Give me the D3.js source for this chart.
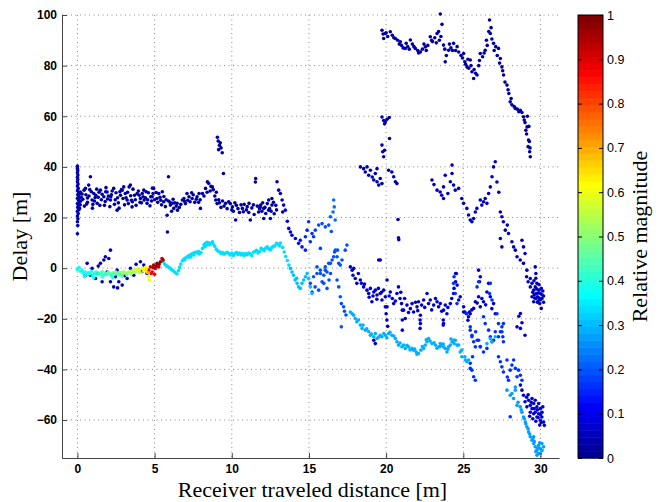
<!DOCTYPE html>
<html>
<head>
<meta charset="utf-8">
<script src="https://cdn.jsdelivr.net/npm/d3@7"></script>
<style>
  body { margin: 0; background: #fff; }
  .axis text { font-family: "Liberation Sans", Arial, sans-serif; font-weight: bold; font-size: 12px; fill: #000; }
  .axis path, .axis line { stroke: #444; }
  .cbaxis text { font-family: "Liberation Sans", Arial, sans-serif; font-size: 12.5px; fill: #000; }
  .cbaxis path { stroke: none; }
  .cbaxis line { stroke: #000; }
  .grid line { stroke: #888; stroke-dasharray: 1,3.5; }
  .label { font-family: "Liberation Serif", "Times New Roman", serif; font-size: 22px; fill: #000; }
</style>
</head>
<body>
<div id="chart"></div>
<script>
// ===== Data =====

let xTicks = [0, 5, 10, 15, 20, 25, 30];
let yTicks = [-60, -40, -20, 0, 20, 40, 60, 80, 100];
let cbTicks = [0, 0.1, 0.2, 0.3, 0.4, 0.5, 0.6, 0.7, 0.8, 0.9, 1];

// [distance, delay] pairs, one magnitude per group
let streak0 = [[0.0,40.3],[0.0,39.4],[0.02,38.6],[0.0,37.7],[0.03,36.8],[0.0,35.9],[0.02,35.0],[0.0,34.1],[0.04,33.2],[0.0,32.4],[0.05,31.5],[0.0,30.6],[0.08,29.8],[0.02,29.0],[0.1,28.3],[0.0,27.6],[0.06,26.9],[0.12,26.2],[0.0,25.5],[0.08,24.8],[0.02,24.0],[0.1,23.2],[0.0,22.5],[0.05,21.6],[0.0,20.6],[0.03,19.5],[0.0,18.3],[0.02,16.8],[0.0,13.6],[0.15,27.8],[0.18,25.0],[0.2,29.5],[0.22,26.5],[0.14,23.6],[0.25,28.0]];

let bandA = [[0.19,30.1],[0.35,27.2],[0.43,30.8],[0.45,24.5],[0.52,31.5],[0.55,29.0],[0.65,26.0],[0.65,27.7],[0.73,32.8],[0.75,28.5],[0.84,36.1],[0.9,30.2],[0.95,26.9],[0.97,23.7],[1.0,25.2],[1.06,29.5],[1.15,27.9],[1.19,28.8],[1.25,31.2],[1.28,25.6],[1.35,28.0],[1.45,24.8],[1.49,30.8],[1.6,29.2],[1.71,28.2],[1.8,26.3],[1.83,30.2],[1.85,31.8],[1.92,30.1],[2.0,28.5],[2.1,24.3],[2.14,26.9],[2.16,28.2],[2.25,30.5],[2.35,31.5],[2.45,27.0],[2.5,29.8],[2.57,22.9],[2.65,25.8],[2.7,23.7],[2.79,28.8],[2.85,31.0],[2.9,30.8],[2.95,27.5],[3.0,32.1],[3.1,29.5],[3.22,26.9],[3.3,25.5],[3.35,32.1],[3.43,32.8],[3.45,28.6],[3.54,24.2],[3.56,26.2],[3.6,31.2],[3.75,27.0],[3.87,29.5],[3.95,30.5],[4.0,28.8],[4.08,27.5],[4.15,25.8],[4.2,29.5],[4.3,30.8],[4.32,26.9],[4.4,27.8],[4.51,25.6],[4.6,29.8],[4.7,24.6],[4.75,28.2],[4.84,28.2],[4.86,31.6],[4.94,31.5],[5.0,27.0],[5.1,29.9],[5.2,26.0],[5.27,29.5],[5.35,28.0],[5.45,25.0],[5.5,30.2],[5.59,26.2],[5.7,24.3],[5.81,20.9],[5.83,14.3],[5.9,36.1],[5.9,26.5],[6.02,24.9],[6.1,22.5],[6.15,25.6],[6.24,23.6],[6.3,25.8],[6.46,25.6],[6.48,22.9],[6.6,24.0],[6.8,26.9],[6.9,27.5],[7.0,25.5],[7.1,29.5],[7.23,28.2],[7.3,26.2],[7.43,27.5],[7.5,29.0],[7.6,26.0],[7.75,28.2],[7.88,29.5],[7.95,27.0],[7.97,23.6],[8.1,29.5],[8.3,31.5],[8.42,34.1],[8.5,33.5],[8.6,30.5],[8.74,32.1],[8.8,31.0],[8.9,28.5],[8.96,26.9],[9.05,25.5],[9.15,27.0],[9.3,24.0],[9.4,26.5],[9.46,37.4],[9.6,25.6],[9.7,23.5],[9.9,25.5],[10.04,24.2],[10.1,22.5],[10.25,19.0],[10.3,24.8],[10.5,22.0],[10.69,23.6],[10.8,25.2],[10.95,23.0],[11.12,25.6],[11.2,19.0],[11.3,23.8],[11.45,21.2],[11.53,34.0],[11.55,35.4],[11.65,24.5],[11.74,22.2],[11.85,24.2],[11.87,24.9],[11.95,22.5],[12.07,23.6],[12.07,19.6],[12.2,21.6],[12.3,25.5],[12.39,22.9],[12.39,26.9],[12.45,23.5],[12.5,19.6],[12.6,24.9],[12.6,27.5],[12.75,21.5],[12.85,24.8],
  [0.3,29.3],[0.6,25.3],[0.8,31.0],[1.1,26.5],[1.4,30.0],[1.55,27.0],[1.75,24.8],[1.95,27.3],[2.2,29.0],[2.4,25.2],[2.6,27.8],[2.75,30.2],[3.05,25.0],[3.15,27.8],[3.25,30.0],[3.5,26.8],[3.7,28.8],[3.8,24.8],[4.05,26.0],[4.25,28.2],[4.45,30.2],[4.55,27.0],[4.8,26.5],[4.9,29.5],[5.15,27.5],[5.4,26.8],[5.6,28.3],[5.75,27.0],[6.0,26.0],[6.2,27.2],[6.4,24.5],[6.7,25.2],[6.95,26.3],[7.15,26.8],[7.4,29.8],[7.7,27.2],[7.85,26.0],[8.2,28.5],[8.4,30.0],[8.65,32.3],[9.0,30.0],[9.2,25.8],[9.5,24.5],[9.8,26.2],[10.0,23.0],[10.2,25.8],[10.4,23.5],[10.6,25.0],[10.75,22.3],[11.0,24.3],[11.1,22.0],[11.4,25.0],[11.8,23.5],[12.0,25.8],[12.15,24.0],[12.55,22.5],[12.7,26.0],[12.9,23.0]];

let bump50 = [[9.07,51.7],[9.12,50.2],[9.2,48.5],[9.3,47.5],[9.38,45.6],[9.15,46.8],[9.25,49.5]];

let lowScatter = [[0.63,1.9],[0.95,-0.1],[1.28,-2.1],[1.49,1.9],[1.81,4.5],[1.92,-1.5],[2.14,7.1],[2.14,-5.4],[2.35,-7.4],[2.46,-3.4],[2.68,-5.4],[2.79,-2.1],[2.9,-6.7],[3.22,-4.1],[3.43,-0.1],[3.65,-2.8],[3.97,-0.8],[4.08,2.5],[4.3,1.2],[4.51,-2.1],[1.71,3.2],[2.03,3.8],[1.17,-4.1],[0.84,-2.8],[2.57,-0.8],[1.6,-5.4],[2.6,-7.8],[3.05,-3.0],[3.8,1.5],[4.2,-1.2],[1.35,0.8],[0.5,-3.0]];

let cyanMid = [[5.55,2.5],[5.65,1.6],[5.75,1.0],[5.85,0.6],[5.95,0.2],[6.05,-0.3],[6.15,-0.8],[6.25,-1.2],[6.35,-1.8],[6.45,-2.3],[6.55,-1.0],[6.62,0.3],[6.7,1.6],[6.8,2.9],[6.9,3.6],[7.0,4.0],[7.1,4.4],[7.2,4.9],[7.3,5.2],[7.35,4.5],[7.4,5.6],[7.5,5.9],[7.6,6.2],[7.7,6.4],[7.8,6.0],[7.9,5.6],[8.0,6.2],[8.1,7.8],[8.2,9.2],[8.25,8.5],[8.3,9.8],[8.4,10.2],[8.5,10.0],[8.6,9.6],[8.7,9.9],[8.8,9.5],[8.9,8.6],[9.0,7.4],[9.1,6.8],[9.2,6.5],[9.4,6.2],[9.5,5.5],[9.6,6.0],[9.8,5.8],[10.0,6.0],[10.1,5.0],[10.2,5.7],[10.4,5.4],[10.5,6.0],[10.6,5.2],[10.8,5.0],[10.9,5.8],[11.0,5.3],[11.2,5.6],[11.3,4.9],[11.4,6.3],[11.6,7.0],[11.8,6.6],[12.0,7.4],[12.2,7.9],[12.4,7.6],[12.6,8.2],[12.8,8.8],[13.0,9.4],[13.15,9.9],[13.3,8.2],[13.4,6.4],[13.5,4.6],[13.6,3.0],[13.7,1.2],
  [6.95,3.2],[7.25,4.3],[7.55,5.2],[7.85,6.6],[8.35,9.0],[8.55,9.2],[8.75,10.4],[9.3,5.8],[9.7,6.3],[9.9,5.2],[10.3,6.2],[10.7,5.8],[11.1,6.0],[11.5,6.6],[11.7,6.0],[11.9,7.8],[12.1,6.9],[12.3,8.4],[12.5,7.2],[12.7,8.6],[12.9,9.8],[13.1,8.8]];

let lightB = [[13.8,-0.1],[13.9,-1.5],[14.0,-2.8],[14.1,-4.7],[14.2,-4.0],[14.23,-6.0],[14.33,-7.4],[14.44,-8.0],[14.55,-6.0],[14.66,-4.7],[14.77,-3.4],[14.88,-2.1],[14.98,-4.1],[15.09,-7.4],[15.2,-10.0]];

let medC = [[15.09,-6.0],[15.3,-3.4],[15.2,-9.4],[15.4,-7.4],[15.52,-2.1],[15.74,-0.8],[15.85,-5.4],[15.96,-2.8],[16.06,0.5],[16.17,-1.5],[16.28,1.9],[16.4,-2.1],[16.5,3.2],[16.6,4.5],[16.66,6.4],[16.85,7.1],[15.52,0.5],[15.74,-2.1],[16.06,-0.8],[16.39,1.9],[16.71,7.1],[16.82,4.5],[16.93,1.9],[17.46,9.1],[17.35,7.1],[17.14,3.2],[17.03,1.2],[16.82,-4.7],[16.93,-7.4],[17.03,-11.3],[17.1,-14.0],[17.25,-15.3],[17.3,-17.0],[17.4,-18.5],[17.1,-23.2],[15.63,-8.7],[15.96,-6.0],[16.17,-8.0],[16.3,-4.7]];

let darkC = [[17.68,0.5],[17.8,-0.8],[17.9,-0.1],[17.85,-2.8],[18.0,-4.1],[18.1,-6.0],[18.2,-2.1],[18.33,-4.7],[18.4,-6.0],[18.54,-7.4],[18.76,-8.7],[18.87,-10.0],[18.98,-8.0],[19.08,-13.3],[19.2,-9.4],[19.3,-8.7],[19.41,-10.6],[19.5,-8.0],[19.62,-10.0],[19.73,-12.6],[19.84,-8.7],[19.95,-11.3],[20.06,-15.3],[20.27,-9.4],[20.4,-12.0],[20.49,-14.0],[20.7,-10.0],[20.8,-7.4],[20.9,-12.0],[21.0,-14.0],[21.13,-16.6],[21.24,-19.9],[21.35,-14.6],[21.57,-16.0],[21.68,-14.0],[21.78,-17.3],[22.0,-15.3],[22.1,-13.3],[22.22,-18.6],[22.22,-21.9],[22.3,-14.6],[22.43,-12.6],[22.65,-10.0],[22.75,-14.0],[22.86,-12.6],[23.08,-14.6],[23.3,-13.3],[23.4,-15.3],[23.51,-14.0],[23.72,-16.6],[23.72,-21.9],[23.83,-14.6],[23.94,-18.0],[24.16,-14.0],[24.37,-10.0],[24.4,-8.0],[24.55,-2.1],[24.6,-6.7],[24.7,-12.6],[24.8,-11.3],[25.02,-17.3],[25.2,-18.0],[25.3,-20.6],[25.4,-17.3],[25.02,-15.3],[25.1,-17.3],[25.34,-19.2],[25.45,-18.0],[25.67,-15.9],[25.78,-13.3],[25.99,-11.3],[26.1,-15.3],[26.31,-13.3],[26.53,-9.4],[26.64,-6.0],[26.75,-11.3],[26.96,-14.0],[27.07,-18.0],[26.1,-3.4],[25.99,-0.8],[26.05,-5.4],[24.5,-2.1],[24.5,-5.4],[19.95,-15.3],[20.0,-18.0],[20.05,-20.5],[20.1,-23.0],[21.05,-16.6],[21.05,-20.5],[21.05,-24.5],[22.2,-20.5],[22.2,-23.8],[23.7,-20.5],[23.7,-22.5],[28.7,-17.9],[28.6,-19.0],[28.8,-21.6],[28.48,-23.2],[28.7,-23.8],[29.0,-26.5],[19.2,-28.5],[19.3,-29.8],[19.62,3.2],[20.06,-4.7],
  [18.6,-6.3],[18.9,-11.5],[19.15,-11.0],[19.4,-12.3],[19.7,-9.5],[20.2,-11.0],[20.6,-13.0],[20.95,-9.5],[21.2,-12.0],[21.45,-17.5],[21.9,-13.5],[22.05,-16.8],[22.5,-15.5],[22.95,-16.5],[23.2,-12.0],[23.6,-17.0],[24.0,-15.5],[24.25,-12.0],[25.55,-16.5],[25.9,-13.8],[26.2,-12.0],[26.45,-14.5],[26.85,-16.0]];

let topBand = [[19.73,94.0],[19.84,90.7],[19.95,92.7],[20.1,91.5],[20.27,93.4],[20.4,92.0],[20.6,90.7],[20.75,90.0],[20.92,89.4],[21.0,88.0],[21.24,86.8],[21.4,87.5],[21.57,90.1],[21.7,88.5],[21.89,86.8],[22.05,86.0],[22.22,85.4],[22.35,86.5],[22.54,87.4],[22.7,88.0],[22.86,91.4],[23.0,89.5],[23.15,91.0],[23.3,92.7],[23.45,90.0],[23.51,100.4],[23.62,96.3],[23.72,88.1],[23.83,81.5],[23.9,84.0],[24.05,86.1],[24.2,87.0],[24.37,88.8],[24.5,86.0],[24.7,85.4],[24.85,84.0],[25.02,84.8],[25.1,81.5],[25.24,79.5],[25.35,79.0],[25.45,82.2],[25.56,77.6],[25.67,74.9],[25.7,78.5],[25.89,76.3],[26.0,80.0],[26.1,84.8],[26.25,83.5],[26.42,86.1],[26.55,88.0],[26.65,93.5],[26.7,98.0],[26.75,92.7],[26.85,90.5],[26.96,88.8],[27.1,87.5],[27.2,84.0],[27.28,86.8],[27.4,82.8],[27.5,79.5],[27.61,76.3],[27.7,73.5],[27.83,72.3],[27.95,69.0],[28.04,65.7],[28.15,64.5],[28.37,63.1],[28.5,62.8],[28.69,62.4],[28.8,61.5],[28.9,59.8],[29.0,57.5],[29.15,60.0],[29.13,55.8],[29.25,56.0],[29.1,53.0],[29.23,50.6],[29.2,48.0],[29.3,46.0],[29.34,44.0],
  [19.8,92.5],[20.0,93.0],[20.5,91.0],[20.85,88.5],[21.1,87.0],[21.3,88.8],[21.5,86.5],[21.8,87.5],[22.1,85.0],[22.45,88.5],[22.6,86.0],[22.95,90.0],[23.25,89.0],[23.4,93.5],[23.55,91.5],[23.8,86.5],[24.1,88.5],[24.3,86.0],[24.6,87.5],[24.95,83.0],[25.15,80.5],[25.3,82.5],[25.5,80.0],[25.8,77.0],[26.05,82.0],[26.35,85.0],[26.5,90.0],[26.8,95.0],[27.0,86.0],[27.35,81.0],[27.55,78.0],[27.9,70.5],[28.1,67.0],[28.3,63.8],[28.6,61.8],[28.95,58.5],[29.05,54.5],[29.28,50.0],[29.32,47.5]];

let topCluster = [[18.33,40.0],[18.54,39.3],[18.76,40.0],[18.65,38.0],[18.87,36.7],[18.98,38.7],[19.1,36.0],[19.2,34.8],[19.3,37.4],[19.41,34.1],[19.52,32.8],[19.62,35.4],[19.73,33.4],[19.41,39.3],[19.84,44.0],[19.9,46.6],[20.16,38.7],[20.37,38.0],[20.49,36.1],[20.6,34.1],[20.7,33.4],[19.73,59.7],[19.84,58.3],[19.95,57.8],[20.06,58.8],[20.2,59.5],[19.9,57.0],[19.73,48.6],[20.22,51.2],[19.78,46.0],[20.77,19.2],[20.8,12.0],[20.82,11.2],[19.52,3.2]];

let rightD = [[22.97,34.8],[23.1,33.0],[23.3,30.8],[23.5,30.1],[23.6,28.8],[23.72,32.1],[23.83,36.7],[23.72,27.5],[24.0,29.5],[24.16,34.1],[24.27,37.4],[24.27,40.7],[24.37,32.8],[24.48,30.8],[24.7,31.5],[24.9,27.5],[25.02,25.6],[25.23,23.6],[25.34,21.0],[25.45,19.0],[25.56,18.3],[25.67,19.6],[25.78,22.2],[25.88,23.6],[26.1,26.9],[26.2,24.9],[26.31,26.2],[26.42,27.5],[26.53,25.6],[26.64,29.5],[26.75,32.1],[26.86,36.1],[26.96,40.0],[27.07,42.0],[27.18,34.0],[27.3,30.0],[27.4,22.2],[27.5,20.3],[27.6,18.3],[27.85,17.0],[27.72,15.0],[27.93,13.7],[27.4,11.7],[27.5,8.4],[28.15,10.4],[28.26,8.4],[28.37,7.1],[28.48,4.5],[28.69,3.2],[28.8,11.0],[28.9,8.4],[29.0,5.8],[28.9,1.9],[29.12,-0.8],[29.1,-3.4],[29.2,-5.4],[29.34,-7.4],[29.45,-6.0],[29.56,-8.7],[29.66,-7.4],[29.73,-10.0],[29.8,-11.3],[29.9,-8.7],[29.99,-10.0],[30.1,-12.0],[29.95,-14.0],[30.05,-15.9],[29.66,0.5],[29.7,-2.1],[29.45,-11.3],[29.56,-13.3],[29.77,-6.0],[29.34,-4.1],[30.15,-9.0],[30.2,-11.0],[30.0,-12.5],[29.85,-13.0],[29.7,-12.0],[29.6,-10.5],
  [29.5,-9.5],[29.62,-11.8],[29.75,-8.2],[29.85,-9.8],[29.92,-11.8],[30.05,-8.0],[30.1,-10.5],[29.58,-5.0],[29.7,-4.0],[29.8,-13.5],[29.9,-6.5],[30.2,-13.5]];

let blueE = [[24.37,-6.0],[24.48,-10.0],[24.59,-14.0],[24.4,-3.4],[25.89,-7.4],[25.99,-5.4],[26.75,-6.0],[26.7,-10.0],[26.86,-12.6],[25.23,-17.9],[25.45,-23.2],[25.56,-27.1],[25.8,-25.1],[25.99,-28.5],[26.1,-31.0],[26.31,-19.2],[26.42,-21.9],[26.64,-24.5],[26.75,-27.1],[26.86,-29.1],[27.07,-25.1],[27.18,-18.0],[27.28,-21.9],[27.5,-25.1],[27.6,-29.1],[27.56,-27.1],[25.45,-24.5],[25.56,-26.5],[25.67,-29.1],[25.78,-31.1],[25.9,-28.5],[26.1,-31.1],[26.31,-33.1],[26.53,-31.7],[26.96,-28.5],[27.28,-27.1],[27.4,-25.1],[27.5,-23.2],[27.6,-21.9],[27.28,-35.0],[27.4,-37.0],[27.5,-39.0],[27.6,-41.0],[27.85,-43.0],[27.93,-44.3],[28.04,-40.3],[28.15,-38.3],[28.26,-36.3],[28.37,-39.6],[28.48,-42.9],[28.58,-40.3],[28.7,-42.3],[28.8,-44.3],[27.83,-36.3],[28.04,-58.7],[25.45,-37.6],[25.56,-40.3],[25.67,-42.9],[25.78,-44.3],[25.6,-35.0],[25.45,-39.6]];

let denseH = [[29.23,-52.2],[29.34,-54.2],[29.45,-55.5],[29.56,-53.5],[29.66,-56.9],[29.77,-54.8],[29.88,-57.5],[29.99,-55.5],[30.09,-58.8],[30.2,-60.8],[30.25,-62.1],[29.99,-60.1],[29.77,-58.8],[29.56,-57.5],[29.34,-56.9],[29.12,-54.8],[29.0,-52.8],[28.9,-50.2],[28.8,-48.2],[28.7,-46.2],[29.88,-53.5],[29.66,-52.2],[29.45,-51.5],[30.1,-56.9],[30.15,-54.8],
  [29.3,-58.5],[29.5,-59.5],[29.7,-60.5],[29.85,-59.0],[29.95,-62.0],[30.05,-61.0],[29.6,-55.5],[29.4,-53.0],[29.8,-56.0],[30.0,-57.8],[29.2,-50.0],[29.1,-51.0]];

let lightF = [[17.68,-17.3],[17.8,-18.0],[17.9,-18.6],[18.0,-19.9],[18.1,-21.2],[18.33,-22.5],[18.44,-23.8],[18.65,-24.5],[18.87,-25.1],[18.98,-26.5],[19.2,-27.1],[19.3,-25.8],[19.41,-27.8],[19.62,-26.5],[19.73,-27.1],[19.95,-26.5],[20.16,-25.8],[20.37,-26.5],[20.6,-27.8],[20.7,-29.1],[20.8,-30.4],[21.02,-31.1],[21.13,-30.4],[21.24,-31.7],[21.45,-31.1],[21.67,-31.7],[21.78,-32.4],[21.95,-33.1],[22.1,-33.7],[22.25,-32.4],[22.43,-31.7],[22.54,-30.4],[22.65,-29.1],[22.75,-27.8],[22.97,-29.8],[23.19,-30.4],[23.4,-31.1],[23.6,-30.4],[23.83,-31.7],[24.05,-31.1],[24.27,-29.1],[24.48,-28.5],[24.7,-30.4],[24.9,-32.4],[25.1,-35.0],[25.34,-36.3],[23.51,-29.8],[23.72,-31.1],[23.94,-33.1],[24.16,-30.4],[24.37,-28.5],[24.59,-30.4],[24.8,-33.1],[24.9,-35.0],[25.13,-36.3],[25.23,-37.0],[26.53,-29.8],[26.75,-27.8],[26.86,-29.1],[27.07,-27.1],
  [18.2,-20.5],[18.5,-22.5],[18.75,-24.0],[19.05,-26.0],[19.5,-27.3],[19.85,-25.8],[20.05,-27.5],[20.25,-25.3],[20.5,-26.8],[20.9,-29.6],[21.35,-30.5],[21.55,-32.3],[21.85,-32.0],[22.0,-34.0],[22.35,-31.0],[22.6,-28.3],[22.85,-28.8],[23.1,-29.5],[23.3,-31.6],[23.5,-31.0],[23.7,-30.0],[24.0,-32.0],[24.2,-28.0],[24.4,-29.8]];

let lightG = [[27.83,-48.2],[28.04,-50.2],[28.26,-51.5],[28.37,-48.2],[28.48,-54.2],[28.69,-54.8],[28.8,-56.9],[28.9,-58.8],[29.02,-60.8],[29.12,-62.7],[29.23,-64.7],[29.34,-66.6],[29.45,-68.0],[29.56,-69.3],[29.66,-70.6],[29.77,-71.9],[29.88,-70.0],[29.99,-71.3],[30.09,-69.3],[29.88,-73.2],[29.77,-73.9],[29.99,-73.2],[30.2,-70.6],[29.56,-66.6],[28.37,-47.0],
  [28.15,-49.5],[28.55,-53.0],[28.75,-56.0],[28.95,-59.5],[29.05,-61.5],[29.2,-63.5],[29.3,-65.5],[29.5,-67.5],[29.6,-68.5],[29.7,-72.5],[29.82,-71.0],[29.95,-69.0],[30.1,-72.0]];

// [distance, delay, magnitude] where the colour changes along the track
let cyanEarly = [[0.0,-0.5,0.38],[0.1,0.3,0.38],[0.2,-1.2,0.38],[0.3,-0.8,0.38],[0.4,-2.0,0.37],[0.5,-1.5,0.38],[0.6,-2.5,0.38],[0.7,-1.8,0.39],[0.8,-2.2,0.38],[0.9,-1.2,0.4],[1.0,-2.8,0.38],[1.1,-2.0,0.4],[1.2,-1.5,0.42],[1.3,-2.6,0.4],[1.4,-1.9,0.41],[1.5,-2.3,0.42],[1.6,-1.4,0.44],[1.7,-2.8,0.4],[1.8,-2.0,0.45],[1.9,-2.5,0.42],[2.0,-1.6,0.46],[2.1,-2.2,0.44],[2.2,-2.9,0.42],[2.3,-1.8,0.47],[2.4,-2.4,0.45],[2.5,-1.5,0.48],[2.6,-2.1,0.46],[2.7,-2.7,0.44],[2.8,-1.7,0.5],[2.9,-2.3,0.48],[3.0,-1.4,0.52],[3.1,-2.0,0.5],[3.2,-2.6,0.47],[3.3,-1.6,0.53],[3.4,-1.2,0.55],[3.5,-2.1,0.5],[3.6,-0.9,0.56],[3.7,-1.6,0.54],[3.8,-0.5,0.58],[3.9,-1.3,0.55],[4.0,-0.7,0.6],[4.1,-1.8,0.52],[4.2,-0.2,0.58],[4.3,-1.0,0.6],[4.4,0.3,0.62],[4.5,-0.6,0.58],[0.45,-3.4,0.4],[1.05,-3.8,0.38],[1.6,-3.5,0.42],[2.3,-3.9,0.4],[2.9,-3.3,0.45]];

let redPts = [[4.62,-0.8,0.88],[4.73,0.5,0.92],[4.84,-1.5,0.9],[4.94,1.2,0.95],[5.05,-0.1,0.9],[5.16,1.9,0.97],[5.27,0.5,0.93],[5.38,2.5,0.96],[5.48,3.8,0.92],[5.55,3.2,0.95],[5.0,-2.4,0.88],[4.78,-2.1,0.86],[5.1,0.8,1.0],[5.3,1.6,0.98],[4.9,0.2,0.94],[4.62,-3.4,0.62],[4.65,-4.7,0.6],[4.55,-1.8,0.7],[4.45,-0.5,0.65]];

let descentA = [[12.93,34.1,0.05],[13.04,30.8,0.05],[13.15,29.5,0.05],[13.26,26.9,0.06],[13.36,24.9,0.06],[13.47,22.9,0.07],[13.3,22.2,0.06],[13.6,18.5,0.08],[13.69,15.7,0.09],[13.8,14.3,0.1],[13.9,13.0,0.1],[14.12,11.7,0.12],[14.33,9.8,0.13],[14.44,11.0,0.13],[14.55,8.4,0.14],[14.77,12.4,0.15],[14.88,15.0,0.15],[14.98,18.3,0.16],[15.09,10.4,0.16],[15.2,13.7,0.17],[15.3,12.4,0.17],[15.41,15.0,0.18],[15.63,17.0,0.19],[15.85,17.6,0.19],[16.06,16.3,0.2],[16.28,17.0,0.2],[16.39,20.3,0.21],[16.56,22.2,0.22],[16.64,24.2,0.22],[16.6,26.9,0.22],[15.74,7.8,0.18],[14.77,7.1,0.15],[16.7,19.0,0.22],[16.45,14.5,0.2]];

// ===== Layout =====

let margin = {top: 15, right: 100, bottom: 44, left: 62},
    width = 497,
    height = 443;

// MATLAB style jet colormap with 64 levels
let jet = v => {
  let k = Math.min(63, Math.floor(v * 64)), t = (k + 1) / 64;
  let c = a => Math.round(255 * Math.max(0, Math.min(1, 1.5 - Math.abs(4 * t - a))));
  return "rgb(" + c(3) + "," + c(2) + "," + c(1) + ")";
};

let x = d3.scaleLinear().domain([-1, 31.2]).range([0, width]),
    y = d3.scaleLinear().domain([-75, 100]).range([height, 0]);

let svg = d3.select("#chart").append("svg")
    .attr("width", 659)
    .attr("height", 502);

let g = svg.append("g")
    .attr("transform", "translate(" + margin.left + "," + margin.top + ")");

// grid
let grid = g.append("g").attr("class", "grid");
grid.selectAll(".gx").data(xTicks).enter().append("line")
    .attr("x1", d => x(d)).attr("x2", d => x(d))
    .attr("y1", 0).attr("y2", height);
grid.selectAll(".gy").data(yTicks).enter().append("line")
    .attr("x1", 0).attr("x2", width)
    .attr("y1", d => y(d)).attr("y2", d => y(d));

// points: flat groups first, then coloured tracks on top
let groups = [
  [streak0, 0.04], [bandA, 0.03], [bump50, 0.03], [topBand, 0.03], [topCluster, 0.04],
  [rightD, 0.05], [darkC, 0.07], [denseH, 0.07], [lowScatter, 0.05],
  [blueE, 0.17], [medC, 0.2], [lightF, 0.29], [lightG, 0.28], [lightB, 0.3], [cyanMid, 0.33]
];

let pts = [];
groups.forEach(([arr, m]) => arr.forEach(p => pts.push([p[0], p[1], m])));
descentA.concat(cyanEarly, redPts).forEach(p => pts.push(p));

g.append("g").selectAll("circle")
    .data(pts)
  .enter().append("circle")
    .attr("cx", d => x(d[0]))
    .attr("cy", d => y(d[1]))
    .attr("r", 1.8)
    .attr("fill", d => jet(d[2]));

// axes (box off: left and bottom only, inward ticks)
g.append("g")
    .attr("class", "axis axis--x")
    .attr("transform", "translate(0," + height + ")")
    .call(d3.axisBottom(x).tickValues(xTicks).tickSizeInner(-5).tickSizeOuter(0).tickPadding(6));

g.append("g")
    .attr("class", "axis axis--y")
    .call(d3.axisLeft(y).tickValues(yTicks).tickSizeInner(-5).tickSizeOuter(0).tickPadding(5));

g.append("text")
    .attr("class", "label")
    .attr("x", width / 2 + 2)
    .attr("y", height + 39)
    .attr("text-anchor", "middle")
    .text("Receiver traveled distance [m]");

g.append("text")
    .attr("class", "label")
    .attr("transform", "translate(" + (-35) + "," + (height / 2) + ") rotate(-90)")
    .attr("text-anchor", "middle")
    .text("Delay [m]");

// ===== Colorbar =====

let cb = svg.append("g").attr("transform", "translate(578," + margin.top + ")"),
    cbW = 25,
    cy = d3.scaleLinear().domain([0, 1]).range([height, 0]);

cb.selectAll("rect.lvl")
    .data(d3.range(64))
  .enter().append("rect")
    .attr("class", "lvl")
    .attr("x", 0)
    .attr("width", cbW)
    .attr("y", k => cy((k + 1) / 64))
    .attr("height", k => cy(k / 64) - cy((k + 1) / 64) + 0.5)
    .attr("fill", k => jet((k + 0.5) / 64));

cb.append("rect")
    .attr("width", cbW).attr("height", height)
    .attr("fill", "none").attr("stroke", "#000");

cb.append("g")
    .attr("class", "cbaxis")
    .attr("transform", "translate(" + cbW + ",0)")
    .call(d3.axisRight(cy).tickValues(cbTicks).tickFormat(d => String(d)).tickSizeInner(-4).tickSizeOuter(0).tickPadding(4));

cb.append("g")
    .attr("class", "cbaxis")
    .call(d3.axisLeft(cy).tickValues(cbTicks).tickFormat("").tickSizeInner(-4).tickSizeOuter(0));

cb.append("text")
    .attr("class", "label")
    .attr("transform", "translate(" + 69 + "," + (height / 2) + ") rotate(-90)")
    .attr("text-anchor", "middle")
    .text("Relative magnitude");
</script>
</body>
</html>
